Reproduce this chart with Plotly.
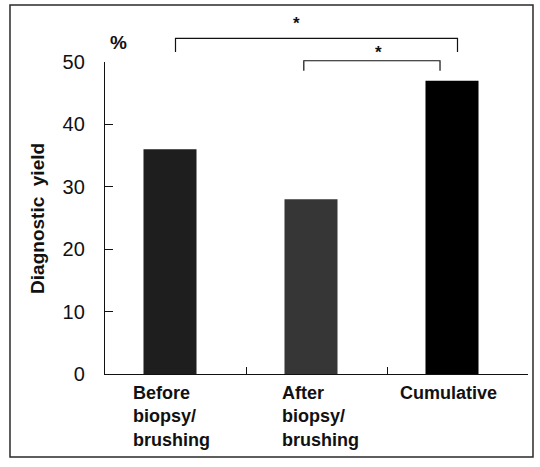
import plotly.graph_objects as go

categories = ["Before<br>biopsy/<br>brushing", "After<br>biopsy/<br>brushing", "Cumulative"]
yield_pct = [36, 28, 47]
bar_colors = ["#1e1e1e", "#363636", "#000000"]
y_ticks = [0, 10, 20, 30, 40, 50]
YMAX = 50

FONT = "Liberation Sans, Arial, sans-serif"

fig = go.Figure()
fig.add_trace(go.Bar(
    x=list(range(len(categories))), y=yield_pct,
    marker=dict(color=bar_colors, line=dict(width=0)),
    width=0.376, offset=-0.227, showlegend=False, hoverinfo="skip",
))

def yp(v):
    return v / YMAX

shapes = []
# outer frame
shapes.append(dict(type="rect", xref="paper", yref="paper",
                   x0=-0.2246, x1=1.0118, y0=-0.266, y1=1.1827,
                   line=dict(color="#2a2a2a", width=1.5)))
# significance brackets (category index positions, heights in % units)
brackets = [(0.0, 2.0, 53.8, 51.6), (0.91, 1.876, 50.2, 48.6)]
for x0, x1, ytop, yleg in brackets:
    shapes.append(dict(type="path", xref="x", yref="paper",
                       path=f"M {x0},{yp(yleg)} L {x0},{yp(ytop)} L {x1},{yp(ytop)} L {x1},{yp(yleg)}",
                       line=dict(color="#111", width=1.2)))

annotations = []
for i, c in enumerate(categories):
    shifts = [-4, 4, -9]
    annotations.append(dict(x=i, y=0, xref="x", yref="paper", text=f"<b>{c}</b>",
                            showarrow=False, xanchor="center", yanchor="top", align="left",
                            xshift=shifts[i], yshift=-7,
                            font=dict(family=FONT, size=18, color="#111")))
annotations.append(dict(x=-0.161, y=0.5, xref="paper", yref="paper",
                        xanchor="center", yanchor="middle",
                        text="<b>Diagnostic\u00a0\u00a0yield</b>", textangle=-90,
                        showarrow=False, font=dict(family=FONT, size=19, color="#111")))
annotations.append(dict(x=0.033, y=1.064, xref="paper", yref="paper", text="<b>%</b>",
                        xanchor="center", yanchor="middle",
                        showarrow=False, font=dict(family=FONT, size=19, color="#111")))
for sx, sy in [(0.86, 56.2), (1.44, 51.5)]:
    annotations.append(dict(x=sx, y=yp(sy), xref="x", yref="paper", text="<b>*</b>",
                            xanchor="center", yanchor="middle",
                            showarrow=False, font=dict(family=FONT, size=17, color="#111")))

fig.update_layout(
    width=540, height=467,
    margin=dict(l=105, r=12, t=62, b=93),
    paper_bgcolor="white", plot_bgcolor="white",
    font=dict(family=FONT, color="#111"),
    bargap=0.6,
    xaxis=dict(range=[-0.5, 2.5], tickmode="array", tickvals=[0.5, 1.5, 2.5],
               showticklabels=False, ticks="inside", ticklen=7, tickwidth=1.2,
               tickcolor="#111", showline=True, linecolor="#111", linewidth=1.3,
               showgrid=False, zeroline=False),
    yaxis=dict(range=[0, YMAX], tickvals=y_ticks, ticks="inside", ticklen=8,
               tickwidth=1.2, tickcolor="#111", showline=True, linecolor="#111",
               linewidth=1.3, showgrid=False, zeroline=False,
               tickfont=dict(family=FONT, size=20, color="#111"),
               ticklabelstandoff=15),
    shapes=shapes, annotations=annotations,
)

fig.write_html("out.html", config={"displayModeBar": False},
               post_script="document.body.style.margin='0';document.body.style.overflow='hidden';")
